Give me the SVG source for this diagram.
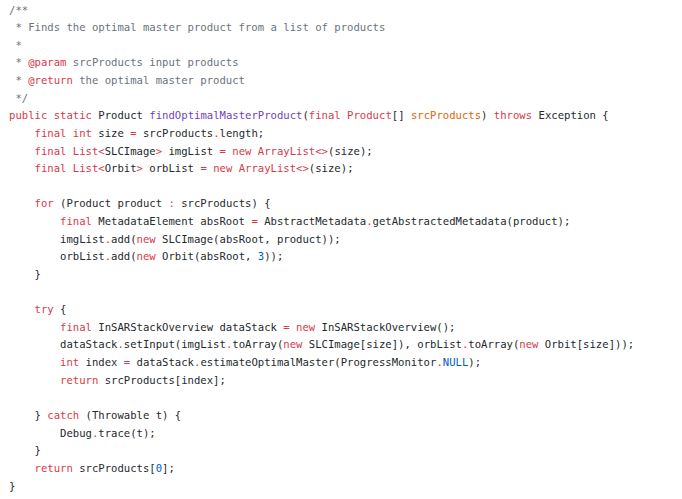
<svg xmlns="http://www.w3.org/2000/svg" width="682" height="499" viewBox="0 0 682 499">
<style>
text{font-family:"DejaVu Sans Mono","Liberation Mono",monospace;font-size:10.6px;fill:#24292e;white-space:pre}
.c{fill:#6a737d}
.k{fill:#d73a49}
.f{fill:#6f42c1}
.p{fill:#e36209}
.n{fill:#005cc5}
</style>
<rect width="682" height="499" fill="#ffffff"/>
<g id="code" xml:space="preserve">
<text x="9" y="13.5" class="c">/**</text>
<text x="9" y="31.13" class="c"> * Finds the optimal master product from a list of products</text>
<text x="9" y="48.76" class="c"> *</text>
<text x="9" y="66.39" class="c"> * <tspan class="k">@param</tspan> srcProducts input products</text>
<text x="9" y="84.02" class="c"> * <tspan class="k">@return</tspan> the optimal master product</text>
<text x="9" y="101.65" class="c"> */</text>
<text x="9" y="119.28"><tspan class="k">public</tspan> <tspan class="k">static</tspan> Product <tspan class="f">findOptimalMasterProduct</tspan>(<tspan class="k">final</tspan> <tspan class="k">Product</tspan>[] <tspan class="p">srcProducts</tspan>) <tspan class="k">throws</tspan> Exception {</text>
<text x="9" y="136.91">    <tspan class="k">final</tspan> <tspan class="k">int</tspan> size <tspan class="k">=</tspan> srcProducts<tspan class="k">.</tspan>length;</text>
<text x="9" y="154.54">    <tspan class="k">final</tspan> <tspan class="k">List&lt;</tspan>SLCImage<tspan class="k">&gt;</tspan> imgList <tspan class="k">=</tspan> <tspan class="k">new</tspan> <tspan class="k">ArrayList&lt;&gt;</tspan>(size);</text>
<text x="9" y="172.17">    <tspan class="k">final</tspan> <tspan class="k">List&lt;</tspan>Orbit<tspan class="k">&gt;</tspan> orbList <tspan class="k">=</tspan> <tspan class="k">new</tspan> <tspan class="k">ArrayList&lt;&gt;</tspan>(size);</text>
<text x="9" y="207.43">    <tspan class="k">for</tspan> (Product product <tspan class="k">:</tspan> srcProducts) {</text>
<text x="9" y="225.06">        <tspan class="k">final</tspan> MetadataElement absRoot <tspan class="k">=</tspan> AbstractMetadata<tspan class="k">.</tspan>getAbstractedMetadata(product);</text>
<text x="9" y="242.69">        imgList<tspan class="k">.</tspan>add(<tspan class="k">new</tspan> SLCImage(absRoot, product));</text>
<text x="9" y="260.32">        orbList<tspan class="k">.</tspan>add(<tspan class="k">new</tspan> Orbit(absRoot, <tspan class="n">3</tspan>));</text>
<text x="9" y="277.95">    }</text>
<text x="9" y="313.21">    <tspan class="k">try</tspan> {</text>
<text x="9" y="330.84">        <tspan class="k">final</tspan> InSARStackOverview dataStack <tspan class="k">=</tspan> <tspan class="k">new</tspan> InSARStackOverview();</text>
<text x="9" y="348.47">        dataStack<tspan class="k">.</tspan>setInput(imgList<tspan class="k">.</tspan>toArray(<tspan class="k">new</tspan> SLCImage[size]), orbList<tspan class="k">.</tspan>toArray(<tspan class="k">new</tspan> Orbit[size]));</text>
<text x="9" y="366.1">        <tspan class="k">int</tspan> index <tspan class="k">=</tspan> dataStack<tspan class="k">.</tspan>estimateOptimalMaster(ProgressMonitor<tspan class="k">.</tspan><tspan class="n">NULL</tspan>);</text>
<text x="9" y="383.73">        <tspan class="k">return</tspan> srcProducts[index];</text>
<text x="9" y="418.99">    } <tspan class="k">catch</tspan> (Throwable t) {</text>
<text x="9" y="436.62">        Debug<tspan class="k">.</tspan>trace(t);</text>
<text x="9" y="454.25">    }</text>
<text x="9" y="471.88">    <tspan class="k">return</tspan> srcProducts[<tspan class="n">0</tspan>];</text>
<text x="9" y="489.51">}</text>
</g>
</svg>
